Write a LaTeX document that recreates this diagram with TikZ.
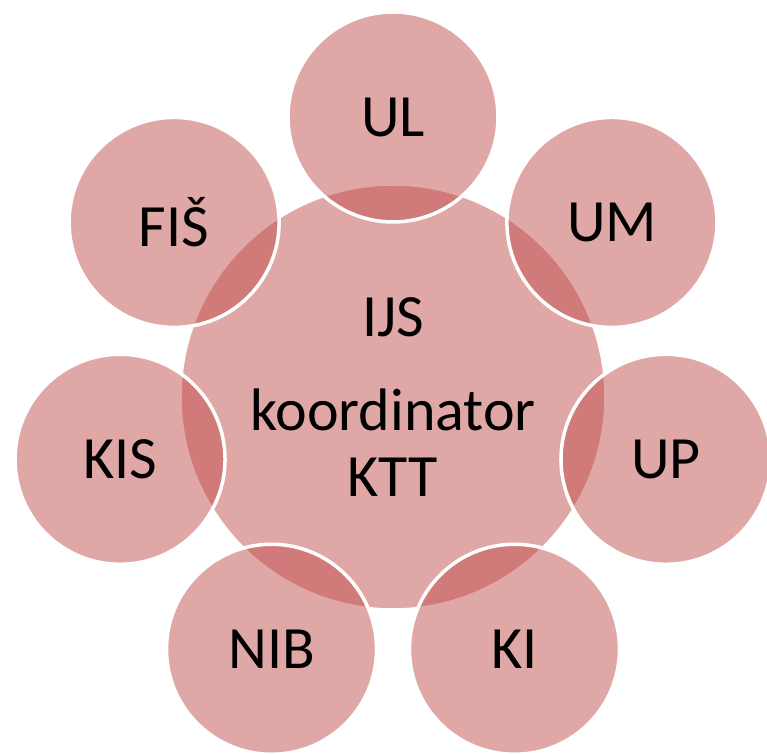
\documentclass[tikz,border=0pt]{standalone}
\usepackage{fontspec}
\setmainfont{Carlito}
\usetikzlibrary{calc}

\definecolor{ktred}{RGB}{192,80,77}

\tikzset{krog/.style={
    	circle, inner sep=0pt,
    	fill=ktred, fill opacity=0.5, text opacity=1,
    	draw=white, line width=3.5pt,
    	font=\fontsize{60}{66}\selectfont
  	},
  	sredina/.style={krog, minimum size=426pt, align=center},
  	clan/.style={krog, minimum size=210pt}
}

\begin{document}
\begin{tikzpicture}[x=1pt, y=1pt]
	\useasboundingbox (0,0) rectangle (767,754);
	% osrednji krog
	\node[sredina] (ijs) at (393,357) {IJS\\[28pt]koordinator\\KTT};
	% partnerji okoli koordinatorja, v smeri urinega kazalca od vrha
	\foreach \ime/\napis [count=\i from 0] in {ul/UL, um/UM, up/UP, ki/KI, nib/NIB, kis/KIS, fis/FIŠ}
		\node[clan] (\ime) at ($(ijs)+({90-\i*360/7}:280pt)$) {\napis};
\end{tikzpicture}
\end{document}
